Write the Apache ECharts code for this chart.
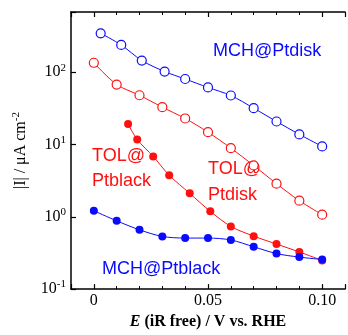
<!DOCTYPE html>
<html>
<head>
<meta charset="utf-8">
<script src="https://cdn.jsdelivr.net/npm/echarts@6/dist/echarts.min.js"></script>
<style>
html,body{margin:0;padding:0;background:#fff;}
#chart{width:348px;height:335px;}
</style>
</head>
<body>
<div id="chart"></div>
<script>
// Data
var xMchDisk   = [0.003, 0.012, 0.021, 0.031, 0.040, 0.050, 0.060, 0.070, 0.080, 0.090, 0.100];
var mchDisk    = [345, 238, 145, 102, 80.5, 61.5, 47.6, 31.8, 20.8, 13.8, 9.4];
var xTolDisk   = [0.000, 0.010, 0.020, 0.030, 0.040, 0.050, 0.060, 0.070, 0.080, 0.090, 0.100];
var tolDisk    = [135, 67.5, 48, 32.8, 22.9, 14.8, 8.9, 5.13, 2.87, 1.67, 1.07];
var xTolBlack  = [0.015, 0.019, 0.026, 0.033, 0.042, 0.051, 0.060, 0.070, 0.080, 0.090, 0.100];
var tolBlack   = [19.2, 11.7, 6.84, 3.76, 2.11, 1.19, 0.736, 0.54, 0.42, 0.326, 0.249];
var xMchBlack  = [0.000, 0.010, 0.020, 0.030, 0.040, 0.050, 0.060, 0.070, 0.080, 0.090, 0.100];
var mchBlack   = [1.21, 0.88, 0.66, 0.535, 0.508, 0.508, 0.478, 0.385, 0.31, 0.277, 0.257];
var xTickLabels = {0: '0', 5: '0.05', 10: '0.10'};
var yTickExps = [-1, 0, 1, 2];

function pairs(xs, ys) { return xs.map(function (x, i) { return [x, ys[i]]; }); }

var BLUE = '#0a0aff', RED = '#ff1010';
var serif = '"Liberation Serif", "DejaVu Serif", serif';
var sans = '"Liberation Sans", Arial, sans-serif';

function mkSeries(name, xs, ys, color, filled, z) {
  return {
    name: name, type: 'line', smooth: 0.3, z: z,
    data: pairs(xs, ys),
    symbol: 'circle', symbolSize: filled ? 8 : 9,
    lineStyle: {color: color, width: 1},
    itemStyle: {color: filled ? color : '#fff', borderColor: color, borderWidth: filled ? 0 : 1.2},
    emphasis: {disabled: true}
  };
}

var chart = echarts.init(document.getElementById('chart'), null, {renderer: 'canvas'});
chart.setOption({
  animation: false,
  backgroundColor: '#fff',
  grid: {left: 71, top: 12, right: -8, bottom: 38, containLabel: false},
  xAxis: [{
    type: 'value', min: -0.01, max: 0.11, splitNumber: 2, position: 'bottom',
    axisLine: {show: true, onZero: false, lineStyle: {color: '#000', width: 1.5}},
    axisTick: {show: true, inside: true, length: 5, lineStyle: {color: '#000', width: 1.2}},
    minorTick: {show: true, splitNumber: 5, length: 3, lineStyle: {color: '#000', width: 1}},
    splitLine: {show: false},
    axisLabel: {
      margin: 4, color: '#000', fontFamily: serif, fontSize: 16,
      formatter: function (v) { var k = Math.round(v * 100); return xTickLabels[k] !== undefined && Math.abs(v * 100 - k) < 1e-6 ? xTickLabels[k] : ''; }
    },
    name: '{i|E}{b| (iR free) / V vs. RHE}', nameLocation: 'middle', nameGap: 22,
    nameTextStyle: {
      rich: {
        i: {fontFamily: serif, fontSize: 16, fontWeight: 'bold', fontStyle: 'italic', color: '#000'},
        b: {fontFamily: serif, fontSize: 16, fontWeight: 'bold', color: '#000'}
      }
    }
  }, {
    type: 'value', min: -0.01, max: 0.11, splitNumber: 2, position: 'top',
    axisLine: {show: true, onZero: false, lineStyle: {color: '#000', width: 1.5}},
    axisTick: {show: true, inside: true, length: 5, lineStyle: {color: '#000', width: 1.2}},
    minorTick: {show: true, splitNumber: 5, length: 3, lineStyle: {color: '#000', width: 1}},
    splitLine: {show: false},
    axisLabel: {show: false}
  }],
  yAxis: {
    type: 'log', logBase: 10, min: 0.1, max: 680,
    axisLine: {show: true, onZero: false, lineStyle: {color: '#000', width: 1.5}},
    axisTick: {show: true, inside: true, length: 5, lineStyle: {color: '#000', width: 1.2}},
    splitLine: {show: false},
    axisLabel: {
      margin: 5, color: '#000', fontFamily: serif, fontSize: 16,
      formatter: function (v) {
        var e = Math.round(Math.log10(v));
        if (Math.abs(Math.log10(v) - e) > 1e-6 || yTickExps.indexOf(e) < 0) return '';
        return '{b|10}{s|' + e + '}';
      },
      rich: {
        b: {fontFamily: serif, fontSize: 16, color: '#000'},
        s: {fontFamily: serif, fontSize: 11, color: '#000', padding: [0, 0, 9, 0]}
      }
    },
    name: '{a||I| / μA cm}{s|-2}', nameLocation: 'middle', nameGap: 40, nameRotate: 90,
    nameTextStyle: {
      rich: {
        a: {fontFamily: serif, fontSize: 16, color: '#000'},
        s: {fontFamily: serif, fontSize: 11, color: '#000', padding: [0, 0, 9, 0]}
      }
    }
  },
  series: [
    mkSeries('MCH@Ptdisk', xMchDisk, mchDisk, BLUE, false, 2),
    mkSeries('TOL@Ptdisk', xTolDisk, tolDisk, RED, false, 2),
    mkSeries('TOL@Ptblack', xTolBlack, tolBlack, RED, true, 3),
    mkSeries('MCH@Ptblack', xMchBlack, mchBlack, BLUE, true, 4)
  ],
  graphic: [
    {type: 'text', left: 213, top: 42, style: {text: 'MCH@Ptdisk', fill: BLUE, font: '18px ' + sans}},
    {type: 'text', left: 92, top: 147, style: {text: 'TOL@', fill: RED, font: '18px ' + sans}},
    {type: 'text', left: 92, top: 172, style: {text: 'Ptblack', fill: RED, font: '18px ' + sans}},
    {type: 'text', left: 208, top: 160, style: {text: 'TOL@', fill: RED, font: '18px ' + sans}},
    {type: 'text', left: 208, top: 186, style: {text: 'Ptdisk', fill: RED, font: '18px ' + sans}},
    {type: 'text', left: 102, top: 260, style: {text: 'MCH@Ptblack', fill: BLUE, font: '18px ' + sans}}
  ]
});
</script>
</body>
</html>
